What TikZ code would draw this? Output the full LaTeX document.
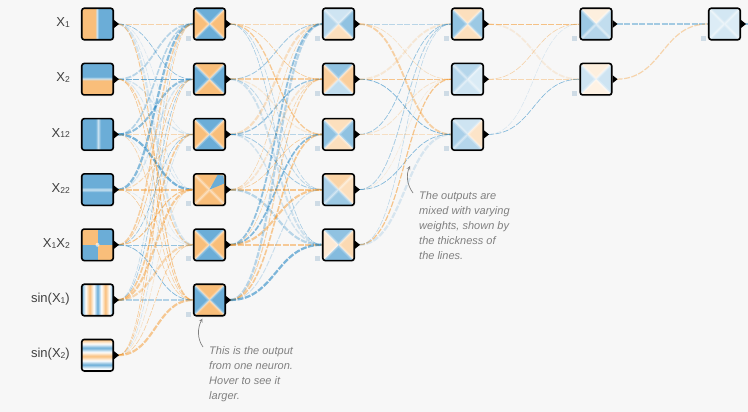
\documentclass[tikz,border=0pt]{standalone}
\usepackage{fontspec}
\setmainfont{Liberation Sans}
\usetikzlibrary{positioning,shadows,backgrounds}

\definecolor{orng}{RGB}{245,147,34}
\definecolor{blu}{RGB}{8,119,189}
\colorlet{orH}{orng!60}
\colorlet{blH}{blu!60}
\definecolor{bgc}{RGB}{247,247,247}
\definecolor{biasc}{RGB}{206,219,229}
\definecolor{notec}{RGB}{128,128,128}

\newcommand\lsub[1]{\raisebox{-.8pt}{\fontsize{8.5}{9}\selectfont#1}}

\pgfdeclarehorizontalshading{hxa}{100bp}{color(0bp)=(orH); color(46bp)=(orH); color(49bp)=(blH!35!white); color(52bp)=(blH); color(100bp)=(blH)}
\pgfdeclareverticalshading{hxb}{100bp}{color(0bp)=(orH); color(48bp)=(orH); color(51bp)=(blH!35!white); color(54bp)=(blH); color(100bp)=(blH)}
\pgfdeclarehorizontalshading{hxc}{100bp}{color(0bp)=(blH); color(47bp)=(blH); color(51bp)=(blH!35!white); color(55bp)=(blH); color(100bp)=(blH)}
\pgfdeclareverticalshading{hxd}{100bp}{color(0bp)=(blH); color(46bp)=(blH); color(50bp)=(blH!35!white); color(54bp)=(blH); color(100bp)=(blH)}
\pgfdeclarehorizontalshading{hxf}{100bp}{color(0bp)=(blH); color(25bp)=(blH); color(31bp)=(white); color(37.5bp)=(orH); color(44bp)=(white); color(50bp)=(blH); color(56bp)=(white); color(62.5bp)=(orH); color(69bp)=(white); color(75bp)=(blH); color(100bp)=(blH)}
\pgfdeclareverticalshading{hxg}{100bp}{color(0bp)=(blH!40!white); color(25bp)=(blH!40!white); color(28.5bp)=(white); color(35bp)=(blH); color(41.5bp)=(white); color(48.5bp)=(orH); color(55bp)=(white); color(61.5bp)=(blH); color(68bp)=(white); color(75bp)=(orH); color(100bp)=(orH)}

\begin{document}
\begin{tikzpicture}[x=1pt,y=-1pt,
	neuron/.style={draw, line width=1.6pt, rounded corners=2.5pt, minimum size=31.5pt, inner sep=0pt, fill=white,
		drop shadow={opacity=.13, shadow xshift=.5pt, shadow yshift=-1.5pt}},
	heat/.style n args={4}{path picture={
		\path (path picture bounding box.north west) coordinate (pnw) (path picture bounding box.north east) coordinate (pne)
			(path picture bounding box.south east) coordinate (pse) (path picture bounding box.south west) coordinate (psw)
			(path picture bounding box.center) coordinate (pc);
		\fill[#1, sharp corners] (pc) -- (pnw) -- (pne) -- cycle;
		\fill[#2, sharp corners] (pc) -- (pne) -- (pse) -- cycle;
		\fill[#3, sharp corners] (pc) -- (pse) -- (psw) -- cycle;
		\fill[#4, sharp corners] (pc) -- (psw) -- (pnw) -- cycle;
		\draw[white, line width=3.5pt, opacity=.22, sharp corners] (pnw) -- (pse) (pne) -- (psw);
		\draw[white, line width=1.5pt, opacity=.3, sharp corners] (pnw) -- (pse) (pne) -- (psw);
	}},
	quad/.style={path picture={
		\fill[blH, sharp corners] (path picture bounding box.north west) rectangle (path picture bounding box.south east);
		\fill[orH, sharp corners] (path picture bounding box.north west) rectangle (path picture bounding box.center);
		\fill[orH, sharp corners] (path picture bounding box.center) rectangle (path picture bounding box.south east);
		\fill[white, opacity=.6] (path picture bounding box.center) circle (2pt);
	}},
	lbl/.style={inner sep=0pt, text height=9.5pt, text depth=0pt, text=black!75, font=\fontsize{13}{15}\selectfont},
	note/.style={inner sep=0pt, align=left, text=notec, font=\itshape\fontsize{11}{15}\selectfont},
	pointer/.style={draw=notec, line width=.7pt, -stealth},
	link/.style={dash pattern=on 6pt off 1.5pt}]
\useasboundingbox (0,0) rectangle (748,412);

\node[neuron, shading=hxa] (l0-1) at (97.5,24) {};
\node[neuron, shading=hxb] (l0-2) at (97.5,79.2) {};
\node[neuron, shading=hxc] (l0-3) at (97.5,134.4) {};
\node[neuron, shading=hxd] (l0-4) at (97.5,189.6) {};
\node[neuron, quad] (l0-5) at (97.5,244.8) {};
\node[neuron, shading=hxf] (l0-6) at (97.5,300) {};
\node[neuron, shading=hxg] (l0-7) at (97.5,355.2) {};

\node[neuron, heat={blH}{orH}{blH}{orH}] (l1-1) at (209.5,24) {};
\node[neuron, heat={orH}{blH}{orH}{blH}] (l1-2) at (209.5,79.2) {};
\node[neuron, heat={blH}{orH}{blH}{orH}] (l1-3) at (209.5,134.4) {};
\node[neuron, heat={orH}{orH}{orH}{orH}] (l1-4) at (209.5,189.6) {};
\fill[blH] (l1-4.center) -- ([shift={(8,2)}]l1-4.north) -- ([shift={(-2.5,2.5)}]l1-4.north east) -- ([shift={(-2,-6)}]l1-4.east) -- cycle;
\node[neuron, heat={blH}{orH}{blH}{orH}] (l1-5) at (209.5,244.8) {};
\node[neuron, heat={orH}{blH}{orH}{blH}] (l1-6) at (209.5,300) {};

\node[neuron, heat={blu!20}{blu!45}{orng!30}{blu!30}] (l2-1) at (338.5,24) {};
\node[neuron, heat={blu!45}{orng!45}{blu!25}{orng!45}] (l2-2) at (338.5,79.2) {};
\node[neuron, heat={orng!30}{blu!45}{orng!30}{blu!45}] (l2-3) at (338.5,134.4) {};
\node[neuron, heat={orng!40}{orng!30}{blu!40}{blu!35}] (l2-4) at (338.5,189.6) {};
\node[neuron, heat={blu!45}{orng!35}{blu!50}{orng!20}] (l2-5) at (338.5,244.8) {};

\node[neuron, heat={orng!30}{blu!40}{orng!30}{blu!45}] (l3-1) at (467.5,24) {};
\node[neuron, heat={blu!30}{blu!15}{blu!20}{blu!30}] (l3-2) at (467.5,79.2) {};
\node[neuron, heat={blu!20}{orng!25}{blu!30}{blu!35}] (l3-3) at (467.5,134.4) {};

\node[neuron, heat={orng!15}{blu!25}{blu!30}{blu!40}] (l4-1) at (596,24) {};
\node[neuron, heat={orng!15}{blu!20}{orng!12}{blu!20}] (l4-2) at (596,79.2) {};

\node[neuron, heat={blu!18}{blu!14}{blu!18}{blu!14}] (l5-1) at (724.5,24) {};

\foreach \t [count=\k] in {X\lsub{1}, X\lsub{2}, X\lsub{12}, X\lsub{22}, X\lsub{1}X\lsub{2}, sin(X\lsub{1}), sin(X\lsub{2})}
	\node[lbl, left=11pt of l0-\k, yshift=2pt] (t\k) {\t};

\foreach \l/\m in {0/7,1/6,2/5,3/3,4/2,5/1}
	\foreach \k in {1,...,\m}
		\fill ([shift={(0,-4)}]l\l-\k.east) -- ++(5,4) -- ++(-5,4) -- cycle;
\foreach \l/\m in {1/6,2/5,3/3,4/2,5/1}
	\foreach \k in {1,...,\m}
		\fill[biasc] ([shift={(-7,-5)}]l\l-\k.south west) rectangle +(5,5);

\begin{scope}[on background layer]
	\fill[bgc] (0,0) rectangle (748,412);
	\pgfmathsetseed{12}
	\foreach \a/\b/\na/\nb/\c in {0/1/7/6/37, 1/2/6/5/46, 2/3/5/3/46, 3/4/3/2/46}
		\foreach \i in {1,...,\na}
			\foreach \j in {1,...,\nb} {
				\pgfmathsetmacro\rc{rnd}
				\pgfmathsetmacro\rw{0.5+1.8*rnd^2}
				\pgfmathsetmacro\ro{0.1+0.45*rnd}
				\ifdim\rc pt<0.5pt \def\lc{orng}\else\def\lc{blu}\fi
				\draw[link, draw=\lc, line width=\rw pt, draw opacity=\ro] ([xshift=4pt]l\a-\i.east) .. controls +(\c,0) and +(-\c,0) .. (l\b-\j.west);
			}
	\draw[link, draw=blu, line width=1.3pt, draw opacity=.35] ([xshift=4pt]l4-1.east) .. controls +(46,0) and +(-46,0) .. (l5-1.west);
	\draw[link, draw=orng, line width=1.2pt, draw opacity=.35] ([xshift=4pt]l4-2.east) .. controls +(46,0) and +(-46,0) .. (l5-1.west);
	\coordinate (outend) at (748,24);
	\draw[link, draw=blu, line width=1.3pt, draw opacity=.4] ([xshift=4pt]l5-1.east) -- (outend);
\end{scope}

\node[note, anchor=north west] (note1) at (209,346) {This is the output\\from one neuron.\\Hover to see it\\larger.};
\node[note, anchor=north west] (note2) at (419,191) {The outputs are\\mixed with varying\\weights, shown by\\the thickness of\\the lines.};
\draw[pointer] ([shift={(-6,1)}]note1.north west) .. controls +(-6,-8) and +(-5,9) .. ([shift={(-7,2)}]l1-6.south);
\coordinate (tip2) at (410,166);
\draw[pointer] ([shift={(-6,2)}]note2.north west) .. controls +(-6,-8) and +(-4,9) .. (tip2);
\end{tikzpicture}
\end{document}
